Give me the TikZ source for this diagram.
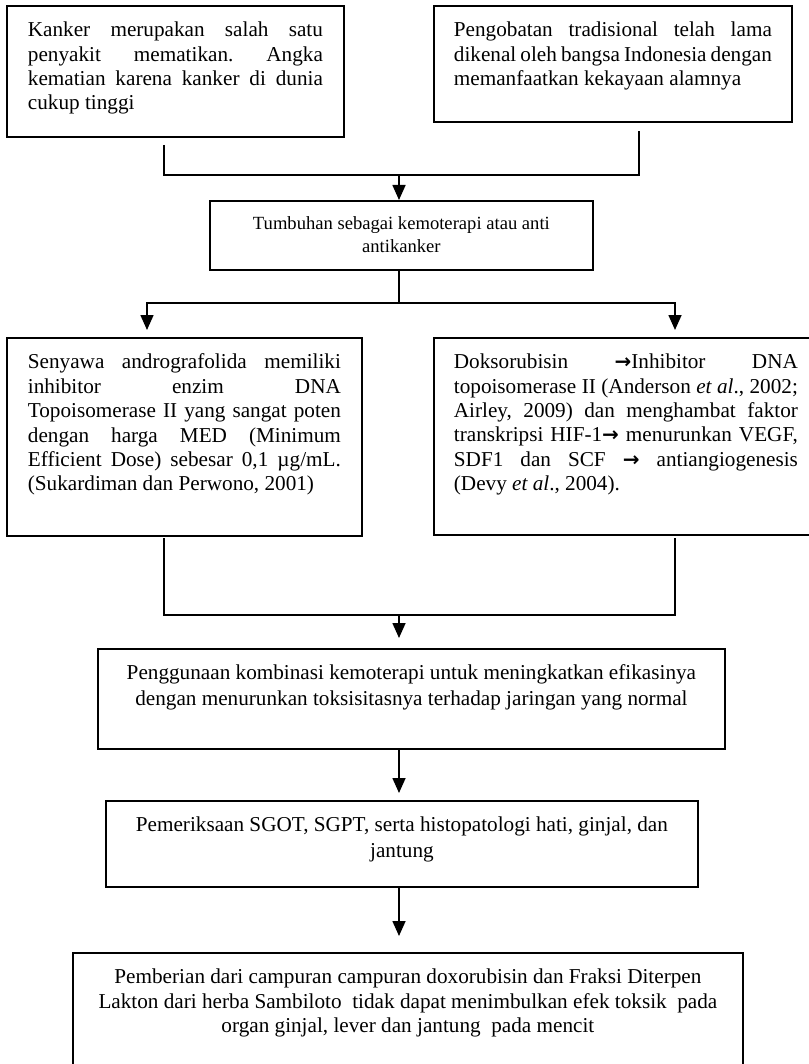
\documentclass[tikz,border=0pt]{standalone}
\usepackage{fontspec}
\setmainfont{Liberation Serif}
\newfontfamily\panahfont{DejaVu Sans}
\usetikzlibrary{arrows.meta}

\tikzset{
  kotak/.style={draw, line width=0.9pt, inner xsep=10pt, inner ysep=8pt, anchor=north west},
  garis/.style={line width=0.8pt},
  panah/.style={line width=0.8pt, -{Triangle[length=7.5pt,width=6.5pt]}}
}
\newcommand{\isi}{\fontsize{10.6}{12.2}\selectfont\frenchspacing}
\newcommand{\kanan}{{\panahfont\bfseries\fontsize{10}{10}\selectfont →}}

\begin{document}
\begin{tikzpicture}[x=0.5pt,y=-0.5pt]
  \useasboundingbox (0,0) rectangle (808,1064);

  % baris atas
  \node[kotak, inner xsep=10.5pt] (kanker) at (6,5) {\parbox[c][49.5pt][t]{147.5pt}{\isi
    Kanker merupakan salah satu\linebreak penyakit mematikan. Angka\linebreak
    kematian karena kanker di dunia\linebreak cukup tinggi}};
  \node[kotak] (pengobatan) at (433,5) {\parbox[c][42pt][t]{159pt}{\isi
    Pengobatan tradisional telah lama\linebreak dikenal oleh bangsa Indonesia dengan\linebreak
    memanfaatkan kekayaan alamnya}};

  \coordinate (a1) at (164,145);
  \coordinate (a2) at (639,131);
  \coordinate (j1) at (399,175);
  \draw[garis] (a1) |- (j1) -| (a2);

  \node[kotak] (tumbuhan) at (209,200) {\parbox[c][18.5pt][t]{171.5pt}{\centering
    \fontsize{9.3}{11.5}\selectfont Tumbuhan sebagai kemoterapi atau anti\\antikanker}};
  \draw[panah] (j1) -- (j1 |- tumbuhan.north);

  % cabang
  \coordinate (j2) at (399,303);
  \coordinate (b1) at (147,330);
  \coordinate (b2) at (675,330);
  \draw[garis] (tumbuhan.south -| j2) -- (j2);
  \draw[panah] (j2) -| (b1);
  \draw[panah] (j2) -| (b2);

  \node[kotak, inner xsep=10.5pt] (senyawa) at (6,337) {\parbox[c][83pt][t]{156.5pt}{\isi
    Senyawa andrografolida memiliki\linebreak inhibitor enzim DNA\linebreak
    Topoisomerase II yang sangat poten\linebreak dengan harga MED (Minimum\linebreak
    Efficient Dose) sebesar 0,1 µg/mL.\linebreak (Sukardiman dan Perwono, 2001)}};
  \node[kotak] (doksorubisin) at (433,337) {\parbox[c][82.5pt][t]{172pt}{\isi
    Doksorubisin \kanan Inhibitor DNA\linebreak topoisomerase II (Anderson \textit{et al}., 2002;\linebreak
    Airley, 2009) dan menghambat faktor\linebreak transkripsi HIF-1\kanan{} menurunkan VEGF,\linebreak
    SDF1 dan SCF \kanan{} antiangiogenesis\linebreak (Devy \textit{et al}., 2004).}};

  \coordinate (c1) at (164,538);
  \coordinate (c2) at (675,538);
  \coordinate (j3) at (399,615);
  \coordinate (d1) at (399,638);
  \draw[garis] (c1) |- (j3) -| (c2);
  \draw[panah] (j3) -- (d1);

  % baris bawah
  \node[kotak] (penggunaan) at (97,648) {\parbox[c][34pt][t]{293.5pt}{\centering
    \fontsize{10.6}{13}\selectfont
    Penggunaan kombinasi kemoterapi untuk meningkatkan efikasinya\\
    dengan menurunkan toksisitasnya terhadap jaringan yang normal}};
  \coordinate (e1) at (399,793);
  \draw[panah] (penggunaan.south -| e1) -- (e1);

  \node[kotak] (pemeriksaan) at (105,800) {\parbox[c][27pt][t]{276pt}{\centering
    \fontsize{10.6}{13}\selectfont
    Pemeriksaan SGOT, SGPT, serta histopatologi hati, ginjal, dan\\ jantung}};
  \coordinate (f1) at (399,936);
  \draw[panah] (pemeriksaan.south -| f1) -- (f1);

  \node[kotak] (pemberian) at (72,952) {\parbox[c][43pt][t]{315pt}{\centering
    \fontsize{10.6}{12.2}\selectfont
    Pemberian dari campuran campuran doxorubisin dan Fraksi Diterpen\\
    Lakton dari herba Sambiloto\ \ tidak dapat menimbulkan efek toksik\ \ pada\\
    organ ginjal, lever dan jantung\ \ pada mencit}};
\end{tikzpicture}
\end{document}
